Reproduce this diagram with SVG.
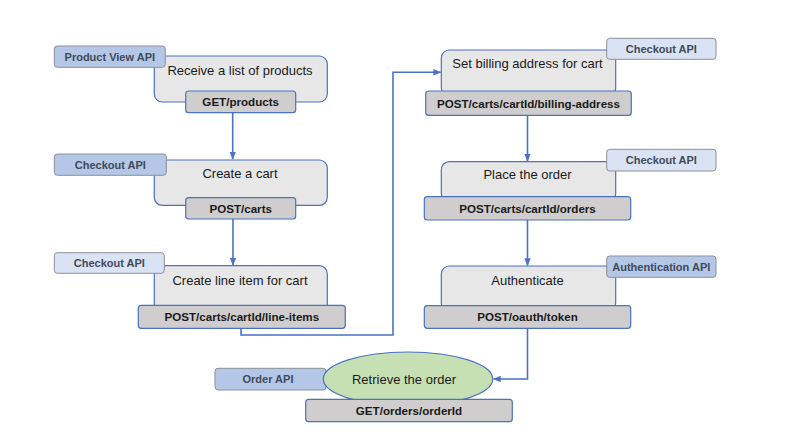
<svg xmlns="http://www.w3.org/2000/svg" width="785" height="442" viewBox="0 0 785 442">
<style>
.main{fill:#e7e7e7;stroke:#4a72c0;stroke-width:1.2}
.ep{fill:#cfcdcd;stroke:#4a72c0;stroke-width:1.2}
.lab1{fill:#b4c7e7;stroke:#8a8f99;stroke-width:1}
.lab2{fill:#dae3f3;stroke:#8a8f99;stroke-width:1}
.t{font-family:"Liberation Sans",Arial,sans-serif;font-size:13px;fill:#1a1a1a;text-anchor:middle}
.e{font-family:"Liberation Sans",Arial,sans-serif;font-size:11.6px;font-weight:bold;fill:#1a1a1a;text-anchor:middle}
.l{font-family:"Liberation Sans",Arial,sans-serif;font-size:11px;font-weight:bold;fill:#3f4a5a;text-anchor:middle}
.c{fill:none;stroke:#4a72c8;stroke-width:1.6}
</style>
<defs>
<marker id="ah" viewBox="0 0 10 10" refX="9" refY="5" markerWidth="5" markerHeight="5" orient="auto">
<path d="M0,1 L10,5 L0,9 z" fill="#4a72c8"/>
</marker>
</defs>
<rect width="785" height="442" fill="#ffffff"/>
<g id="connectors">
<path class="c" d="M232.7,112.5 V159" marker-end="url(#ah)"/>
<path class="c" d="M233,219 V265" marker-end="url(#ah)"/>
<path class="c" d="M241,328.5 V335 H393 V72.3 H440.5" marker-end="url(#ah)"/>
<path class="c" d="M527.5,115.5 V161" marker-end="url(#ah)"/>
<path class="c" d="M527.5,220 V265.5" marker-end="url(#ah)"/>
<path class="c" d="M527.5,328.5 V379 H493.5" marker-end="url(#ah)"/>
</g>
<g id="node-products">
<rect class="main" x="154.3" y="56" width="173" height="46" rx="8"/>
<rect class="lab1" x="54.3" y="46" width="111" height="21.3" rx="3"/>
<text class="l" x="109.8" y="60.5">Product View API</text>
<text class="t" x="240" y="75">Receive a list of products</text>
<rect class="ep" x="185.7" y="91" width="110" height="21.7" rx="3"/>
<text class="e" x="240.7" y="105.9">GET/products</text>
</g>
<g id="node-cart">
<rect class="main" x="154.3" y="160" width="173" height="45.3" rx="8"/>
<rect class="lab1" x="54.3" y="154" width="112" height="21.3" rx="3"/>
<text class="l" x="110.3" y="168.5">Checkout API</text>
<text class="t" x="240" y="178">Create a cart</text>
<rect class="ep" x="185.7" y="197.7" width="110" height="21.3" rx="3"/>
<text class="e" x="240.7" y="212.5">POST/carts</text>
</g>
<g id="node-lineitem">
<rect class="main" x="154.3" y="265.7" width="173" height="48" rx="8"/>
<rect class="lab2" x="54.3" y="252.7" width="110" height="20.6" rx="3"/>
<text class="l" x="109.3" y="266.8">Checkout API</text>
<text class="t" x="240" y="284.5">Create line item for cart</text>
<rect class="ep" x="138.3" y="305.3" width="207" height="23" rx="3"/>
<text class="e" x="241.8" y="321">POST/carts/cartId/line-items</text>
</g>
<g id="node-billing">
<rect class="main" x="441.3" y="50" width="174.4" height="46" rx="8"/>
<rect class="lab2" x="606.7" y="38.3" width="109.3" height="21" rx="3"/>
<text class="l" x="661.3" y="52.5">Checkout API</text>
<text class="t" x="527.5" y="68">Set billing address for cart</text>
<rect class="ep" x="425.7" y="91" width="205.6" height="24.3" rx="3"/>
<text class="e" x="528.5" y="107.5">POST/carts/cartId/billing-address</text>
</g>
<g id="node-order">
<rect class="main" x="441.3" y="161.7" width="174.4" height="40" rx="8"/>
<rect class="lab2" x="606.7" y="149.3" width="109.3" height="21.7" rx="3"/>
<text class="l" x="661.3" y="163.8">Checkout API</text>
<text class="t" x="527.5" y="179">Place the order</text>
<rect class="ep" x="424.3" y="196.7" width="206.4" height="23.3" rx="3"/>
<text class="e" x="527.5" y="212.5">POST/carts/cartId/orders</text>
</g>
<g id="node-auth">
<rect class="main" x="441.3" y="266" width="174.4" height="45" rx="8"/>
<rect class="lab1" x="606.7" y="256" width="109.3" height="21.3" rx="3"/>
<text class="l" x="661.3" y="270.5">Authentication API</text>
<text class="t" x="527.5" y="284.5">Authenticate</text>
<rect class="ep" x="424.3" y="305.7" width="206.4" height="22.6" rx="3"/>
<text class="e" x="527.5" y="321.2">POST/oauth/token</text>
</g>
<g id="node-retrieve">
<rect class="lab1" x="215" y="368.3" width="111" height="21.7" rx="3"/>
<text class="l" x="268" y="383">Order API</text>
<ellipse cx="408" cy="379" rx="84.7" ry="27" fill="#c6e0b4" stroke="#4a72c0" stroke-width="1.2"/>
<text class="t" x="404" y="384">Retrieve the order</text>
<rect class="ep" x="305.7" y="399.3" width="206.6" height="22.4" rx="3"/>
<text class="e" x="409" y="414.7">GET/orders/orderId</text>
</g>
</svg>
